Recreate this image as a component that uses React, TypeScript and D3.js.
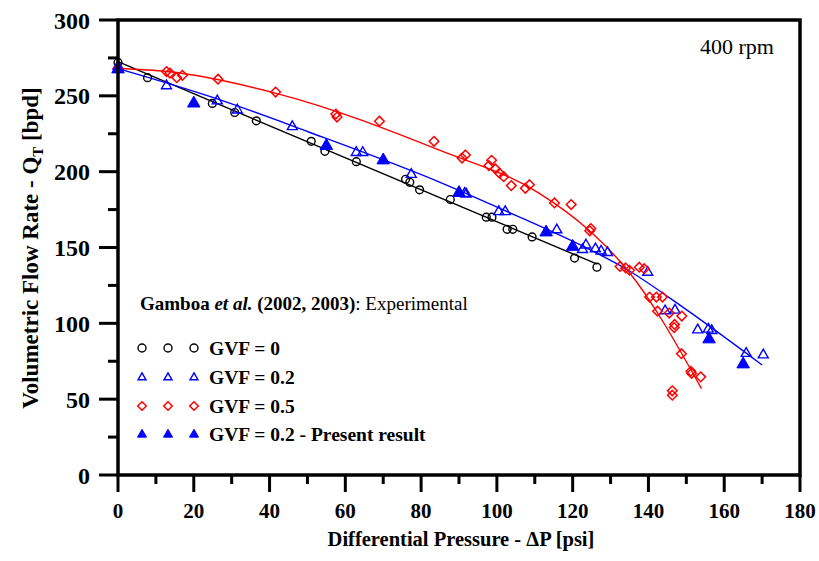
import React from "react";
import * as d3 from "d3";

// ---- data ----
const gvf0X = [0, 7.8, 24.9, 30.8, 36.5, 51, 54.6, 62.9, 75.9, 77, 79.6, 87.7, 97.2, 98.7, 102.7, 104.2, 109.3, 120.5, 126.4];
const gvf0Y = [272, 262, 245, 239, 233.5, 220, 213.4, 206.6, 195, 193, 188, 181.6, 170, 170, 162, 162, 157, 143, 137];

const gvf02X = [0, 12.8, 26.2, 31.5, 46, 62.9, 64.6, 77.4, 91.5, 91.9, 100.5, 102.2, 115.8, 122.6, 123.5, 126, 127.5, 129.2, 139.8, 144.4, 147, 153, 155.8, 156.7, 165.8, 170.3];
const gvf02Y = [270, 257, 247, 241, 230, 213, 213, 198.5, 186, 185.5, 174, 174, 162, 149, 152, 149.5, 148, 147, 134, 108.6, 109, 96, 96.5, 95.5, 80.5, 79.5];

const gvf05X = [0, 12.8, 13.7, 15.5, 17, 26.4, 41.6, 57.5, 57.8, 69, 83.4, 90.8, 91.7, 97.9, 98.6, 99.6, 100.7, 101.8, 103.8, 107.5, 108.6, 115.2, 119.6, 124.5, 124.8, 132.5, 134, 135, 137.6, 138.9, 140.3, 142.1, 143.7, 142.4, 145.5, 148.8, 146.9, 146.8, 148.7, 151.2, 151.4, 153.8, 146.3, 146.3];
const gvf05Y = [268, 266, 265, 262, 263.5, 261, 252.5, 238, 236, 233.3, 220, 209, 211, 204, 207.5, 201.8, 199, 196.7, 190.8, 189, 191.4, 179.4, 178.3, 161, 162.5, 137.5, 136.5, 135, 137, 136, 117.3, 117.3, 117.3, 108, 106.8, 104.8, 99.3, 97.2, 80, 68.4, 67, 64.7, 55.5, 52.6];

const presentX = [0, 20, 55, 70, 90, 113, 120, 156, 165];
const presentY = [268, 245.5, 217.5, 208, 186.5, 160.5, 151, 90, 73.5];

// fitted trend lines as drawn in the reference
const fit0X = [0, 126.5];
const fit0Y = [272.5, 139];
const fit02X = [0, 25, 50, 85, 102, 125, 134, 150, 170];
const fit02Y = [268, 249, 226.5, 193, 174.5, 148, 136, 109, 72.5];
const fit05X = [0, 13, 42.7, 85, 111, 124, 134.5, 154];
const fit05Y = [268, 266, 251, 214, 186, 162, 135, 57];

const xTicks = [0, 20, 40, 60, 80, 100, 120, 140, 160, 180];
const yTicks = [0, 50, 100, 150, 200, 250, 300];

const legendLabels = ["GVF = 0", "GVF = 0.2", "GVF = 0.5", "GVF = 0.2 - Present result"];

const FONT = "'Liberation Serif', 'Times New Roman', serif";

const zip = (xs: number[], ys: number[]) => xs.map((x, i) => [x, ys[i]] as [number, number]);

function triPath(cx: number, cy: number, w: number) {
  const h = w * 0.87;
  return `M${cx},${cy - h * 0.6}L${cx + w / 2},${cy + h * 0.4}L${cx - w / 2},${cy + h * 0.4}Z`;
}
function diaPath(cx: number, cy: number, s: number) {
  return `M${cx},${cy - s}L${cx + s},${cy}L${cx},${cy + s}L${cx - s},${cy}Z`;
}

export default function App() {
  const x = d3.scaleLinear().domain([0, 180]).range([118, 800]);
  const y = d3.scaleLinear().domain([0, 300]).range([475, 20]);

  const line = d3
    .line<[number, number]>()
    .x((d) => x(d[0]))
    .y((d) => y(d[1]))
    .curve(d3.curveMonotoneX);

  const minorX = d3.range(10, 180, 20);
  const minorY = d3.range(25, 300, 50);

  const legendRowsY = [348, 377, 406, 434];
  const legendSymX = [142, 168, 194];

  const drawSym = (kind: number, cx: number, cy: number, legend: boolean, key: string) => {
    if (kind === 0)
      return <circle key={key} cx={cx} cy={cy} r={legend ? 4 : 3.9} fill="none" stroke="#000" strokeWidth={1.4} />;
    if (kind === 1)
      return <path key={key} d={triPath(cx, cy, legend ? 8 : 10)} fill="none" stroke="#0000ff" strokeWidth={1.4} />;
    if (kind === 2)
      return <path key={key} d={diaPath(cx, cy, legend ? 4.3 : 4.8)} fill="none" stroke="#ff0000" strokeWidth={1.5} />;
    return <path key={key} d={triPath(cx, cy, legend ? 9 : 12.5)} fill="#0000ff" stroke="#0000ff" strokeWidth={1} />;
  };

  return (
    <svg
      width={819}
      height={561}
      style={{ position: "absolute", left: 0, top: 0, background: "#fff" }}
      fontFamily={FONT}
    >
      <rect x={0} y={0} width={819} height={561} fill="#fff" />

      {/* fit lines */}
      <path d={line(zip(fit0X, fit0Y)) || ""} fill="none" stroke="#000" strokeWidth={1.4} />
      <path d={line(zip(fit02X, fit02Y)) || ""} fill="none" stroke="#0000ff" strokeWidth={1.4} />
      <path d={line(zip(fit05X, fit05Y)) || ""} fill="none" stroke="#ff0000" strokeWidth={1.4} />

      {/* markers */}
      {zip(gvf0X, gvf0Y).map((d, i) => drawSym(0, x(d[0]), y(d[1]), false, "a" + i))}
      {zip(gvf02X, gvf02Y).map((d, i) => drawSym(1, x(d[0]), y(d[1]), false, "b" + i))}
      {zip(gvf05X, gvf05Y).map((d, i) => drawSym(2, x(d[0]), y(d[1]), false, "c" + i))}
      {zip(presentX, presentY).map((d, i) => drawSym(3, x(d[0]), y(d[1]), false, "d" + i))}

      {/* frame */}
      <rect x={x(0)} y={y(300)} width={x(180) - x(0)} height={y(0) - y(300)} fill="none" stroke="#000" strokeWidth={3.5} />

      {/* x ticks */}
      {xTicks.map((t) => (
        <g key={"xt" + t}>
          <line x1={x(t)} x2={x(t)} y1={y(0)} y2={y(0) + 17} stroke="#000" strokeWidth={3} />
          <text x={x(t)} y={518} textAnchor="middle" fontSize={21} fontWeight="bold">
            {t}
          </text>
        </g>
      ))}
      {minorX.map((t) => (
        <line key={"xm" + t} x1={x(t)} x2={x(t)} y1={y(0)} y2={y(0) + 9} stroke="#000" strokeWidth={3} />
      ))}

      {/* y ticks */}
      {yTicks.map((t) => (
        <g key={"yt" + t}>
          <line x1={x(0) - 19} x2={x(0)} y1={y(t)} y2={y(t)} stroke="#000" strokeWidth={3} />
          <text x={90} y={y(t) + 8.5} textAnchor="end" fontSize={24} fontWeight="bold">
            {t}
          </text>
        </g>
      ))}
      {minorY.map((t) => (
        <line key={"ym" + t} x1={x(0) - 10} x2={x(0)} y1={y(t)} y2={y(t)} stroke="#000" strokeWidth={3} />
      ))}

      {/* axis titles */}
      <text x={461} y={546} textAnchor="middle" fontSize={20.5} fontWeight="bold">
        Differential Pressure - ΔP [psi]
      </text>
      <text transform="translate(38,248) rotate(-90)" textAnchor="middle" fontSize={23} fontWeight="bold">
        Volumetric Flow Rate - Q
        <tspan fontSize={15} dy={5}>T</tspan>
        <tspan dy={-5}> [bpd]</tspan>
      </text>

      {/* annotation */}
      <text x={774} y={54} textAnchor="end" fontSize={22}>
        400 rpm
      </text>

      {/* legend */}
      <text x={140} y={310} fontSize={19}>
        <tspan fontWeight="bold">Gamboa </tspan>
        <tspan fontWeight="bold" fontStyle="italic">et al.</tspan>
        <tspan fontWeight="bold"> (2002, 2003)</tspan>
        <tspan>: Experimental</tspan>
      </text>
      {legendLabels.map((lab, k) => (
        <g key={"lg" + k}>
          {legendSymX.map((sx, j) => drawSym(k, sx, legendRowsY[k], true, "ls" + k + j))}
          <text x={209} y={legendRowsY[k] + 7} fontSize={19.5} fontWeight="bold">
            {lab}
          </text>
        </g>
      ))}
    </svg>
  );
}
